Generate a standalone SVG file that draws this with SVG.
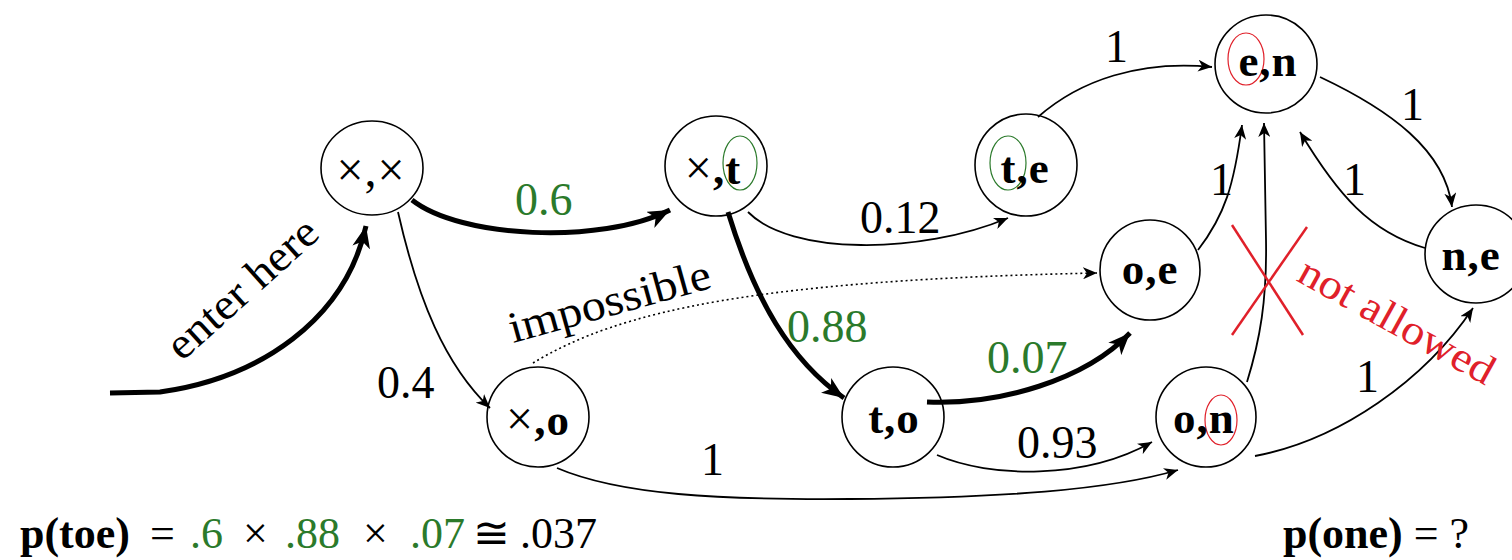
<svg xmlns="http://www.w3.org/2000/svg" width="1512" height="560" viewBox="0 0 1512 560" font-family="'Liberation Serif','Times New Roman',serif">
<style>
text{font-family:"Liberation Serif","Times New Roman",serif}
.c{fill:none;stroke:#000;stroke-width:1.6}
.nl{font-size:45px;font-weight:bold;text-anchor:middle;letter-spacing:1px}
.x{font-weight:normal;font-size:48px}
.lbl{font-size:46px}
.g{fill:#2b7a2b}
.r{fill:#e0202a}
.e{fill:none;stroke:#000;stroke-width:1.8}
.thick{fill:none;stroke:#000;stroke-width:5}
.dot{fill:none;stroke:#000;stroke-width:1.6;stroke-dasharray:2 3}
.ge{fill:none;stroke:#2b7a2b;stroke-width:1.2}
.re{fill:none;stroke:#e0202a;stroke-width:1.2}
.f{font-size:44px}
</style>
<defs>
<marker id="a" markerUnits="userSpaceOnUse" markerWidth="16" markerHeight="12" refX="14" refY="6" orient="auto"><path d="M0,0 L14,6 L0,12 L4,6 z" fill="#000"/></marker>
<marker id="A" markerUnits="userSpaceOnUse" markerWidth="24" markerHeight="18" refX="22" refY="9" orient="auto"><path d="M0,0 L22,9 L0,18 L6,9 z" fill="#000"/></marker>
</defs>
<rect width="1512" height="560" fill="#fff"/>

<g id="connectors">
<path class="thick" d="M110,393 L160,392 C260,378 345,320 366,226" marker-end="url(#A)"/>
<path class="thick" d="M412,200 C460,238 600,245 670,210" marker-end="url(#A)"/>
<path class="e" d="M398,212 C418,300 445,365 490,408" marker-end="url(#a)"/>
<path class="thick" d="M728,212 C755,300 790,360 844,398" marker-end="url(#A)"/>
<path class="e" d="M748,212 C790,255 920,255 1008,218" marker-end="url(#a)"/>
<path class="dot" d="M533,363 C620,310 760,280 1097,273" marker-end="url(#a)"/>
<path class="e" d="M1038,117 C1080,80 1140,60 1212,67" marker-end="url(#a)"/>
<path class="e" d="M1320,77 C1390,110 1445,150 1452,207" marker-end="url(#a)"/>
<path class="e" d="M1425,248 C1370,232 1338,195 1300,132" marker-end="url(#a)"/>
<path class="e" d="M1198,250 C1225,215 1234,185 1242,125" marker-end="url(#a)"/>
<path class="e" d="M1247,382 C1260,340 1267,300 1266,240 L1264,123" marker-end="url(#a)"/>
<path class="thick" d="M927,402 C1000,405 1085,380 1130,333" marker-end="url(#A)"/>
<path class="e" d="M937,455 C990,478 1085,480 1152,442" marker-end="url(#a)"/>
<path class="e" d="M557,468 C620,495 720,500 850,499 C1000,498 1110,490 1178,470" marker-end="url(#a)"/>
<path class="e" d="M1255,456 C1340,440 1425,380 1473,308" marker-end="url(#a)"/>
</g>

<g id="edge-labels" class="lbl">
<text x="515" y="215" class="g">0.6</text>
<text x="377" y="398">0.4</text>
<text x="787" y="342" class="g">0.88</text>
<text x="860" y="233">0.12</text>
<text x="1105" y="62">1</text>
<text x="1401" y="120">1</text>
<text x="1343" y="195">1</text>
<text x="1210" y="195">1</text>
<text x="987" y="373" class="g">0.07</text>
<text x="1017" y="458">0.93</text>
<text x="701" y="475">1</text>
<text x="1356" y="392">1</text>
<text x="182" y="362" font-size="44" textLength="188" lengthAdjust="spacingAndGlyphs" transform="rotate(-42 182 362)">enter here</text>
<text x="513" y="343" font-size="44" textLength="208" lengthAdjust="spacingAndGlyphs" transform="rotate(-15.5 513 343)">impossible</text>
</g>

<g id="not-allowed">
<line x1="1232" y1="225" x2="1303" y2="335" stroke="#e0202a" stroke-width="2.5"/>
<line x1="1307" y1="227" x2="1232" y2="335" stroke="#e0202a" stroke-width="2.5"/>
<text x="1295" y="280" font-size="42" class="r" textLength="218" lengthAdjust="spacingAndGlyphs" transform="rotate(29 1295 280)">not allowed</text>
</g>

<g id="n-xx"><ellipse class="c" cx="372" cy="168" rx="51" ry="47"/><text class="nl" x="371" y="186"><tspan class="x">×,×</tspan></text></g>
<g id="n-xt"><ellipse class="c" cx="716" cy="166" rx="51" ry="50"/><ellipse class="ge" cx="740" cy="163" rx="17" ry="27"/><text class="nl" x="713" y="184"><tspan class="x">×</tspan>,t</text></g>
<g id="n-te"><ellipse class="c" cx="1026" cy="165" rx="51" ry="51"/><ellipse class="ge" cx="1008" cy="163" rx="18" ry="27"/><text class="nl" x="1025" y="183">t,e</text></g>
<g id="n-en"><ellipse class="c" cx="1266" cy="64" rx="51" ry="49"/><ellipse class="re" cx="1246" cy="59" rx="18" ry="26"/><text class="nl" x="1268" y="76">e,n</text></g>
<g id="n-oe"><ellipse class="c" cx="1150" cy="270" rx="50" ry="50"/><text class="nl" x="1150" y="284">o,e</text></g>
<g id="n-ne"><ellipse class="c" cx="1476" cy="254" rx="51" ry="49"/><text class="nl" x="1471" y="270">n,e</text></g>
<g id="n-xo"><ellipse class="c" cx="538" cy="417" rx="51" ry="50"/><text class="nl" x="538" y="435"><tspan class="x">×</tspan>,o</text></g>
<g id="n-to"><ellipse class="c" cx="893" cy="417" rx="51" ry="50"/><text class="nl" x="894" y="433">t,o</text></g>
<g id="n-on"><ellipse class="c" cx="1206" cy="417" rx="50" ry="50"/><ellipse class="re" cx="1221" cy="420" rx="16" ry="25"/><text class="nl" x="1204" y="433">o,n</text></g>

<g id="formulas" class="f">
<text x="20" y="548" font-weight="bold">p(toe)</text>
<text x="150" y="548">=</text>
<text x="190" y="548" class="g">.6</text>
<text x="243" y="548">×</text>
<text x="285" y="548" class="g">.88</text>
<text x="363" y="548">×</text>
<text x="410" y="548" class="g">.07</text>
<text x="473" y="548">≅</text>
<text x="520" y="548">.037</text>
<text x="1283" y="548"><tspan font-weight="bold">p(one)</tspan> = ?</text>
</g>
</svg>
